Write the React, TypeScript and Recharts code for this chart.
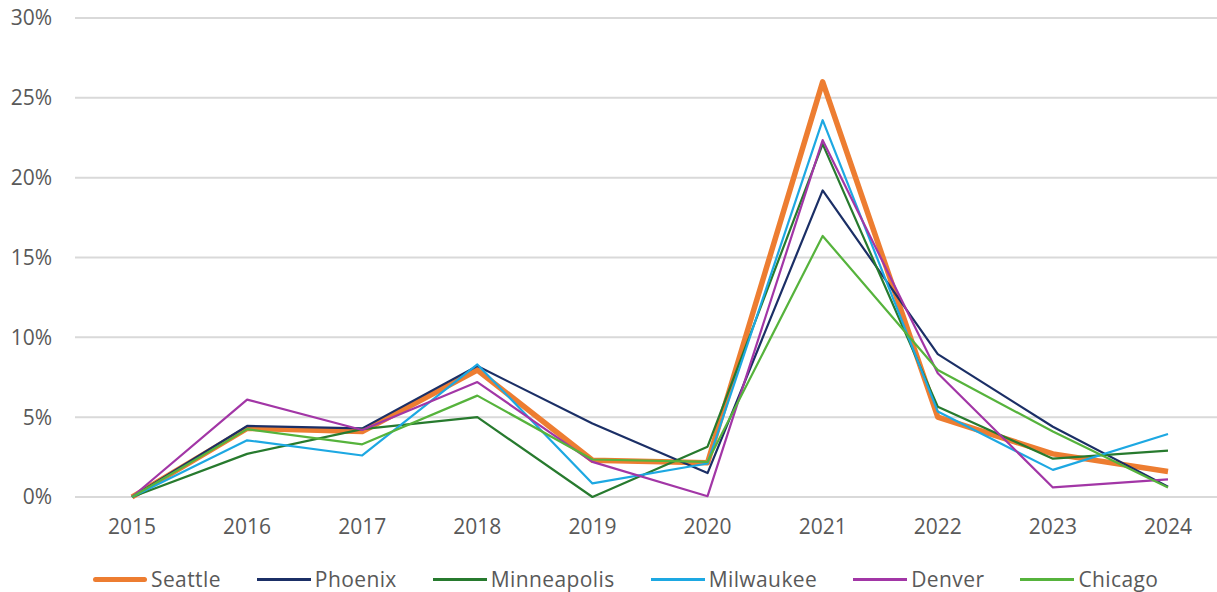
import { LineChart, Line, XAxis, YAxis, CartesianGrid, Legend } from "recharts";

const years = ["2015", "2016", "2017", "2018", "2019", "2020", "2021", "2022", "2023", "2024"];

const seattle = [0, 4.3, 4.1, 7.95, 2.3, 2.15, 26.0, 5.0, 2.7, 1.6];
const phoenix = [0, 4.45, 4.3, 8.2, 4.6, 1.5, 19.2, 8.95, 4.4, 0.65];
const minneapolis = [0, 2.7, 4.25, 5.0, 0, 3.15, 22.1, 5.65, 2.4, 2.9];
const milwaukee = [0, 3.55, 2.6, 8.3, 0.85, 2.1, 23.6, 5.35, 1.7, 3.95];
const denver = [0, 6.1, 4.2, 7.2, 2.2, 0.05, 22.35, 7.75, 0.6, 1.1];
const chicago = [0, 4.25, 3.3, 6.35, 2.35, 2.2, 16.35, 7.95, 4.1, 0.6];

const yTicks = [0, 5, 10, 15, 20, 25, 30];

const series = [
  { key: "Seattle", values: seattle, color: "#ED7D31", width: 5.5 },
  { key: "Phoenix", values: phoenix, color: "#1B2F66", width: 2.2 },
  { key: "Minneapolis", values: minneapolis, color: "#277A2E", width: 2.2 },
  { key: "Milwaukee", values: milwaukee, color: "#1DA8E2", width: 2.2 },
  { key: "Denver", values: denver, color: "#A236A6", width: 2.2 },
  { key: "Chicago", values: chicago, color: "#56B33C", width: 2.2 },
];

const data = years.map((year, i) => {
  const row: Record<string, string | number> = { year };
  series.forEach((s) => {
    row[s.key] = s.values[i];
  });
  return row;
});

const LegendContent = () => (
  <div
    style={{
      height: 45,
      paddingTop: 20,
      boxSizing: "border-box",
      display: "flex",
      paddingLeft: 93,
      fontFamily: "'Open Sans', sans-serif",
      fontSize: 21,
      letterSpacing: 0.4,
      color: "#595959",
      lineHeight: "25px",
    }}
  >
    {series.map((s) => (
      <div key={s.key} style={{ display: "flex", alignItems: "center", marginRight: 36 }}>
        <span
          style={{
            display: "inline-block",
            width: 54,
            height: s.width,
            background: s.color,
            marginRight: 4,
            borderRadius: s.width > 3 ? 3 : 0,
          }}
        />
        <span>{s.key}</span>
      </div>
    ))}
  </div>
);

export default function App() {
  return (
    <div
      style={{
        position: "absolute",
        left: 0,
        top: 0,
        width: 1217,
        height: 592,
        overflow: "hidden",
        background: "#fff",
      }}
    >
      <LineChart
        width={1225}
        height={592}
        data={data}
        margin={{ top: 18, right: 0, left: 0, bottom: 0 }}
        style={{ fontFamily: "'Open Sans', sans-serif" }}
      >
        <CartesianGrid vertical={false} stroke="#D9D9D9" strokeWidth={2} />
        <XAxis
          dataKey="year"
          axisLine={false}
          tickLine={false}
          tickSize={0}
          tickMargin={22}
          height={50}
          padding={{ left: 57, right: 57 }}
          tick={{ fill: "#595959", fontSize: 21 }}
        />
        <YAxis
          width={75}
          domain={[0, 30]}
          ticks={yTicks}
          axisLine={false}
          tickLine={false}
          tickSize={0}
          tickMargin={23}
          tick={{ fill: "#595959", fontSize: 21 }}
          tickFormatter={(v) => `${v}%`}
        />
        <Legend verticalAlign="bottom" height={45} content={<LegendContent />} />
        {series.map((s) => (
          <Line
            key={s.key}
            type="linear"
            dataKey={s.key}
            stroke={s.color}
            strokeWidth={s.width}
            strokeLinejoin="round"
            dot={false}
            activeDot={false}
            isAnimationActive={false}
          />
        ))}
      </LineChart>
    </div>
  );
}
